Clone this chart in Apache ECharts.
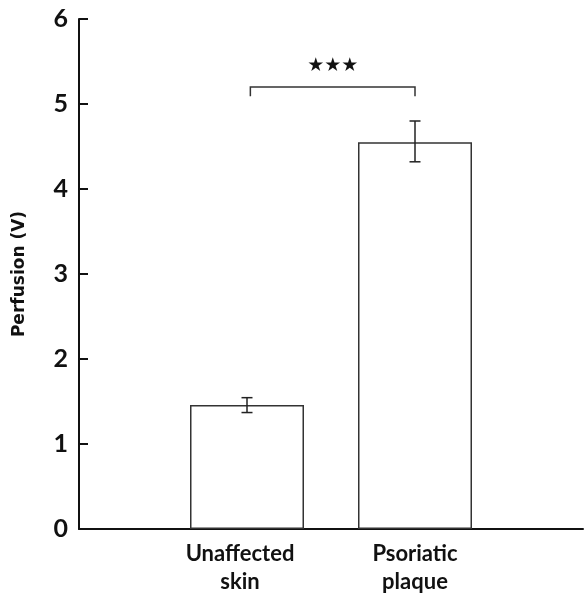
<!DOCTYPE html>
<html><head><meta charset="utf-8">
<script src="https://cdn.jsdelivr.net/npm/echarts@6/dist/echarts.min.js"></script>
<style>html,body{margin:0;padding:0;background:#fff}#c{width:586px;height:598px}</style>
</head><body><div id="c"></div>
<script>
const categories = ['Unaffected\nskin', 'Psoriatic\nplaque'];
const categoryPos = [1, 2];
const means = [1.46, 4.55];
const errLow = [1.37, 4.32];
const errHigh = [1.545, 4.80];
const yTicks = [0, 1, 2, 3, 4, 5, 6];
const bracket = [1.02, 2.0, 5.20, 5.09]; // x1, x2, top, end
const sigLabel = '★★★';

const chart = echarts.init(document.getElementById('c'));
const labelRich = {
  l0: { color: '#111', fontFamily: 'Lato', fontWeight: 'bold', fontSize: 22, lineHeight: 28, padding: [0, 14, 0, 0] },
  l1: { color: '#111', fontFamily: 'Lato', fontWeight: 'bold', fontSize: 22, lineHeight: 28 }
};
chart.setOption({
  animation: false,
  grid: { left: 79, right: 0, top: 19, bottom: 69, containLabel: false },
  xAxis: {
    type: 'value', min: 0, max: 3, interval: 1,
    axisLine: { show: true, onZero: false, lineStyle: { color: '#111', width: 2 } },
    axisTick: { show: false },
    splitLine: { show: false },
    axisLabel: {
      color: '#111', fontFamily: 'Lato', fontWeight: 'bold', fontSize: 22, lineHeight: 28, margin: 11,
      rich: labelRich,
      formatter: v => {
        const i = categoryPos.indexOf(v);
        if (i < 0) return '';
        return categories[i].split('\n').map(s => '{l' + i + '|' + s + '}').join('\n');
      }
    }
  },
  yAxis: {
    type: 'value', min: yTicks[0], max: yTicks[yTicks.length - 1], interval: 1,
    name: 'Perfusion (V)', nameLocation: 'middle', nameGap: 51,
    nameTextStyle: { color: '#111', fontFamily: 'DejaVu Sans', fontWeight: 'bold', fontSize: 17 },
    axisLine: { show: true, lineStyle: { color: '#111', width: 2 } },
    axisTick: { show: true, inside: true, length: 9, lineStyle: { color: '#111', width: 2 } },
    splitLine: { show: false },
    axisLabel: { color: '#111', fontFamily: 'Lato', fontWeight: 'bold', fontSize: 25, margin: 11 }
  },
  series: [
    {
      type: 'bar', barWidth: 114,
      data: categoryPos.map((x, i) => [x, means[i]]),
      itemStyle: { color: '#fff', borderColor: '#333', borderWidth: 1.5 },
      z: 2
    },
    {
      type: 'custom', z: 3,
      data: categoryPos.map((x, i) => [x, errLow[i], errHigh[i]]),
      renderItem: (params, api) => {
        const lo = api.coord([api.value(0), api.value(1)]);
        const hi = api.coord([api.value(0), api.value(2)]);
        const w = 5.5;
        const st = { stroke: '#222', lineWidth: 1.5 };
        return { type: 'group', children: [
          { type: 'line', shape: { x1: hi[0], y1: hi[1], x2: lo[0], y2: lo[1] }, style: st },
          { type: 'line', shape: { x1: hi[0] - w, y1: hi[1], x2: hi[0] + w, y2: hi[1] }, style: st },
          { type: 'line', shape: { x1: lo[0] - w, y1: lo[1], x2: lo[0] + w, y2: lo[1] }, style: st }
        ]};
      }
    },
    {
      type: 'custom', z: 3,
      data: [bracket],
      renderItem: (params, api) => {
        const a = api.coord([api.value(0), api.value(2)]);
        const b = api.coord([api.value(1), api.value(2)]);
        const ae = api.coord([api.value(0), api.value(3)]);
        const be = api.coord([api.value(1), api.value(3)]);
        const st = { stroke: '#333', lineWidth: 1.5 };
        return { type: 'group', children: [
          { type: 'polyline', shape: { points: [ae, a, b, be] }, style: Object.assign({ fill: null }, st) },
          { type: 'text', x: (a[0] + b[0]) / 2, y: a[1] - 11,
            style: { text: sigLabel, fill: '#111', fontSize: 19, fontFamily: 'DejaVu Sans', align: 'center', verticalAlign: 'bottom' } }
        ]};
      }
    }
  ]
});
</script></body></html>
